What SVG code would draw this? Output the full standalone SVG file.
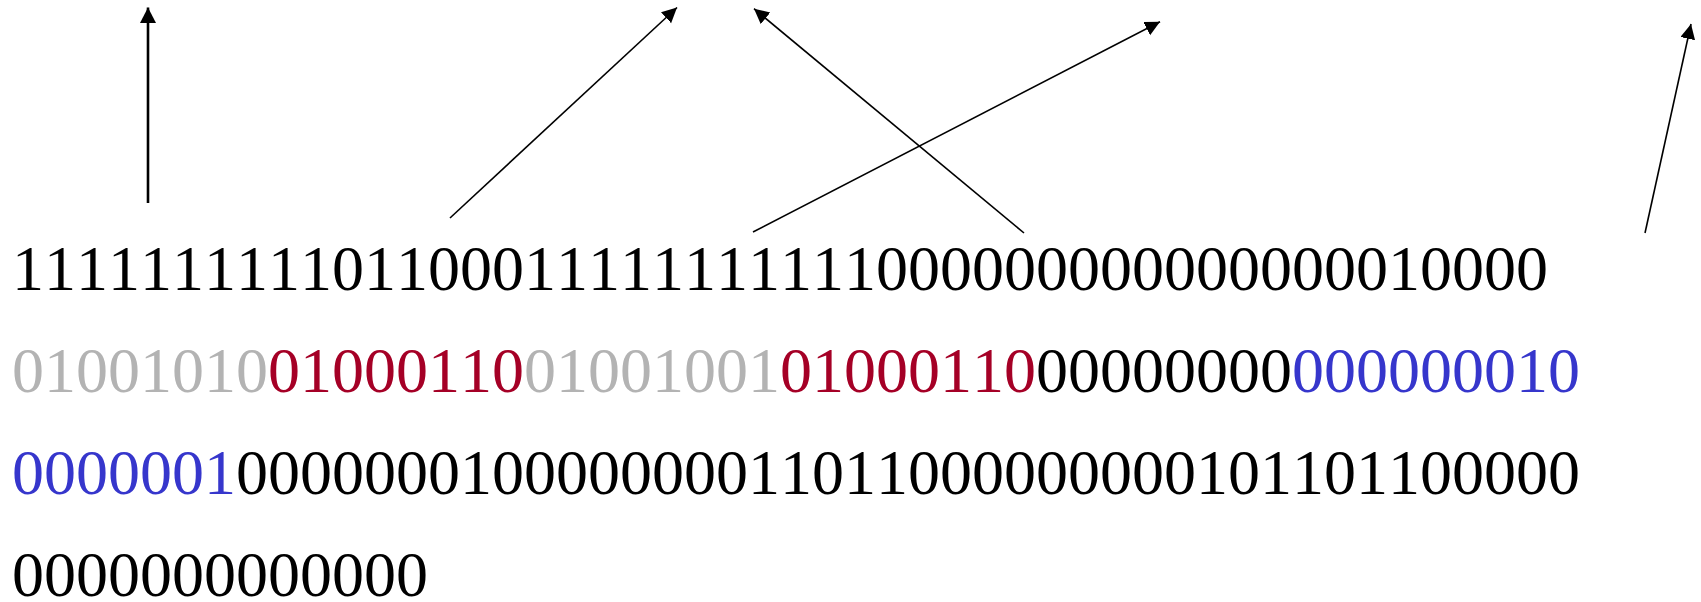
<svg xmlns="http://www.w3.org/2000/svg" width="1701" height="602" viewBox="0 0 1701 602">
<style>
.bits{font-family:"Liberation Serif","Times New Roman",serif;font-size:64px;fill:#000;font-kerning:none;font-feature-settings:"kern" 0}
.g{fill:#b3b3b3}
.r{fill:#a50026}
.b{fill:#3636cc}
.arr{stroke:#000;fill:none;stroke-width:1.6}
.arr1{stroke:#000;fill:none;stroke-width:2.6}
</style>
<defs>
<marker id="ah" markerUnits="userSpaceOnUse" markerWidth="16" markerHeight="16" viewBox="0 0 16 16" refX="15" refY="7.5" orient="auto">
<path d="M0,0 L15,7.5 L0,15 z" fill="#000"/>
</marker>
<marker id="ah1" markerUnits="userSpaceOnUse" markerWidth="17" markerHeight="17" viewBox="0 0 17 17" refX="15.5" refY="8" orient="auto">
<path d="M0,0 L15.5,8 L0,16 z" fill="#000"/>
</marker>
</defs>
<g id="connectors">
<line class="arr1" x1="148" y1="203" x2="148" y2="7.5" marker-end="url(#ah1)"/>
<line class="arr" x1="450" y1="218" x2="677" y2="7.5" marker-end="url(#ah)"/>
<line class="arr" x1="1024" y1="233" x2="754" y2="8.7" marker-end="url(#ah)"/>
<line class="arr" x1="753" y1="232" x2="1160" y2="21.7" marker-end="url(#ah)"/>
<line class="arr" x1="1645" y1="233" x2="1691" y2="24" marker-end="url(#ah)"/>
</g>
<g id="row1"><text class="bits" x="12" y="290"><tspan>11111</tspan><tspan>11111</tspan><tspan>011000</tspan><tspan>11111</tspan><tspan>111111</tspan><tspan>00000000</tspan><tspan>00000000</tspan><tspan>10000</tspan></text></g>
<g id="row2"><text class="bits" x="12" y="392"><tspan class="g">01001010</tspan><tspan class="r">01000110</tspan><tspan class="g">01001001</tspan><tspan class="r">01000110</tspan><tspan>00000000</tspan><tspan class="b">000000010</tspan></text></g>
<g id="row3"><text class="bits" x="12" y="494"><tspan class="b">0000001</tspan><tspan>0000000</tspan><tspan>1</tspan><tspan>00000000</tspan><tspan>11011</tspan><tspan>000000000</tspan><tspan>1011011</tspan><tspan>00000</tspan></text></g>
<g id="row4"><text class="bits" x="12" y="596">0000000000000</text></g>
</svg>
